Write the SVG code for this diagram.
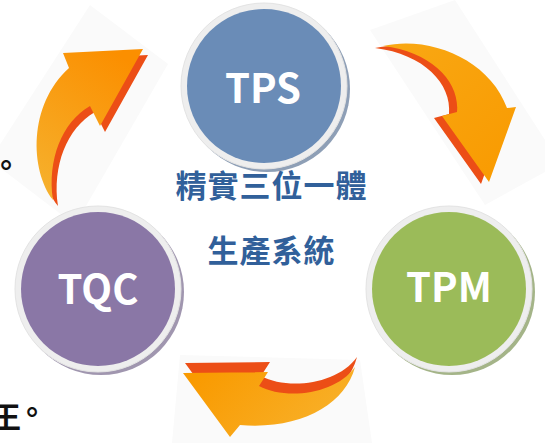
<svg xmlns="http://www.w3.org/2000/svg" width="545" height="443" viewBox="0 0 545 443">
  <defs>
    <linearGradient id="g1" x1="0.7" y1="0" x2="0.2" y2="1">
      <stop offset="0" stop-color="#FB8F00"/>
      <stop offset="1" stop-color="#F6B02C"/>
    </linearGradient>
    <linearGradient id="g2" x1="0" y1="0" x2="1" y2="1">
      <stop offset="0" stop-color="#F9A814"/>
      <stop offset="1" stop-color="#F99A00"/>
    </linearGradient>
    <linearGradient id="g3" x1="0" y1="0.3" x2="1" y2="0.7">
      <stop offset="0" stop-color="#F99A00"/>
      <stop offset="1" stop-color="#F8B22C"/>
    </linearGradient>
  </defs>
  <style>
    .bg { fill: #FAFAFA; }
    .bevel { fill: #EC4E16; }
    .ring { fill: #EEEEEE; stroke: #E3E3E3; stroke-width: 1; }
    .lbl { font-family: "Noto Sans CJK TC", "Noto Sans", sans-serif; font-weight: bold; font-size: 40px; fill: #FFFFFF; text-anchor: middle; }
    .title { font-family: "Noto Sans CJK TC", sans-serif; font-weight: bold; font-size: 31px; fill: #31609A; text-anchor: middle; letter-spacing: 1px; }
    .side { font-family: "Noto Sans CJK TC", sans-serif; font-weight: bold; font-size: 30px; fill: #111111; }
  </style>
  <rect width="545" height="443" fill="#FFFFFF"/>

  <g id="connectors">
    <polygon class="bg" points="90,5 168,64 75,225 -10,160"/>
    <polygon class="bg" points="370,30 455,0 545,140 545,172 485,205"/>
    <polygon class="bg" points="180,355 360,360 372,443 172,443"/>
    <!-- TQC -> TPS -->
    <g id="arrow-tqc-tps">
      <path class="bevel" transform="translate(5,6)" d="M 63,53 L 143,49 L 100,126 L 90,106 C 62,122 47,160 53,200 C 30,170 28,105 69,68 Z"/>
      <path fill="url(#g1)" d="M 63,53 L 143,49 L 100,126 L 90,106 C 62,122 47,160 53,200 C 30,170 28,105 69,68 Z"/>
    </g>
    <!-- TPS -> TPM -->
    <g id="arrow-tps-tpm">
      <path class="bevel" transform="translate(-8,2)" d="M 383,46 C 430,35 490,60 507,108 L 516,107 L 489,182 L 442,116 L 457,112 C 460,82 432,52 383,46 Z"/>
      <path fill="url(#g2)" d="M 383,46 C 430,35 490,60 507,108 L 516,107 L 489,182 L 442,116 L 457,112 C 460,82 432,52 383,46 Z"/>
    </g>
    <!-- TPM -> TQC -->
    <g id="arrow-tpm-tqc">
      <path class="bevel" transform="translate(2,-10)" d="M 183,373 L 268,372 L 259,386 C 285,400 335,395 355,367 C 345,405 300,430 240,425 L 230,437 Z"/>
      <path fill="url(#g3)" d="M 183,373 L 268,372 L 259,386 C 285,400 335,395 355,367 C 345,405 300,430 240,425 L 230,437 Z"/>
    </g>
  </g>

  <g id="TPS">
    <circle cx="267" cy="89" r="83" fill="#8E9FB6"/>
    <circle class="ring" cx="264" cy="86" r="83"/>
    <circle cx="264" cy="86" r="77" fill="#6A8CB7"/>
    <text class="lbl" x="263" y="103">TPS</text>
  </g>

  <g id="TPM">
    <circle cx="452" cy="292" r="83" fill="#A4B488"/>
    <circle class="ring" cx="449" cy="289" r="83"/>
    <circle cx="449" cy="289" r="77" fill="#9BBB59"/>
    <text class="lbl" x="449" y="302">TPM</text>
  </g>

  <g id="TQC">
    <circle cx="101" cy="292" r="83" fill="#A096AF"/>
    <circle class="ring" cx="98" cy="289" r="83"/>
    <circle cx="98" cy="289" r="77" fill="#8A77A6"/>
    <text class="lbl" x="98" y="304">TQC</text>
  </g>

  <g id="center-title">
    <text class="title" x="271.5" y="197">精實三位一體</text>
    <text class="title" x="271.5" y="262">生產系統</text>
  </g>

  <g id="side-text">
    <text class="side" x="-9" y="176">。</text>
    <text class="side" x="-9 17" y="428 423">王。</text>
  </g>
</svg>
